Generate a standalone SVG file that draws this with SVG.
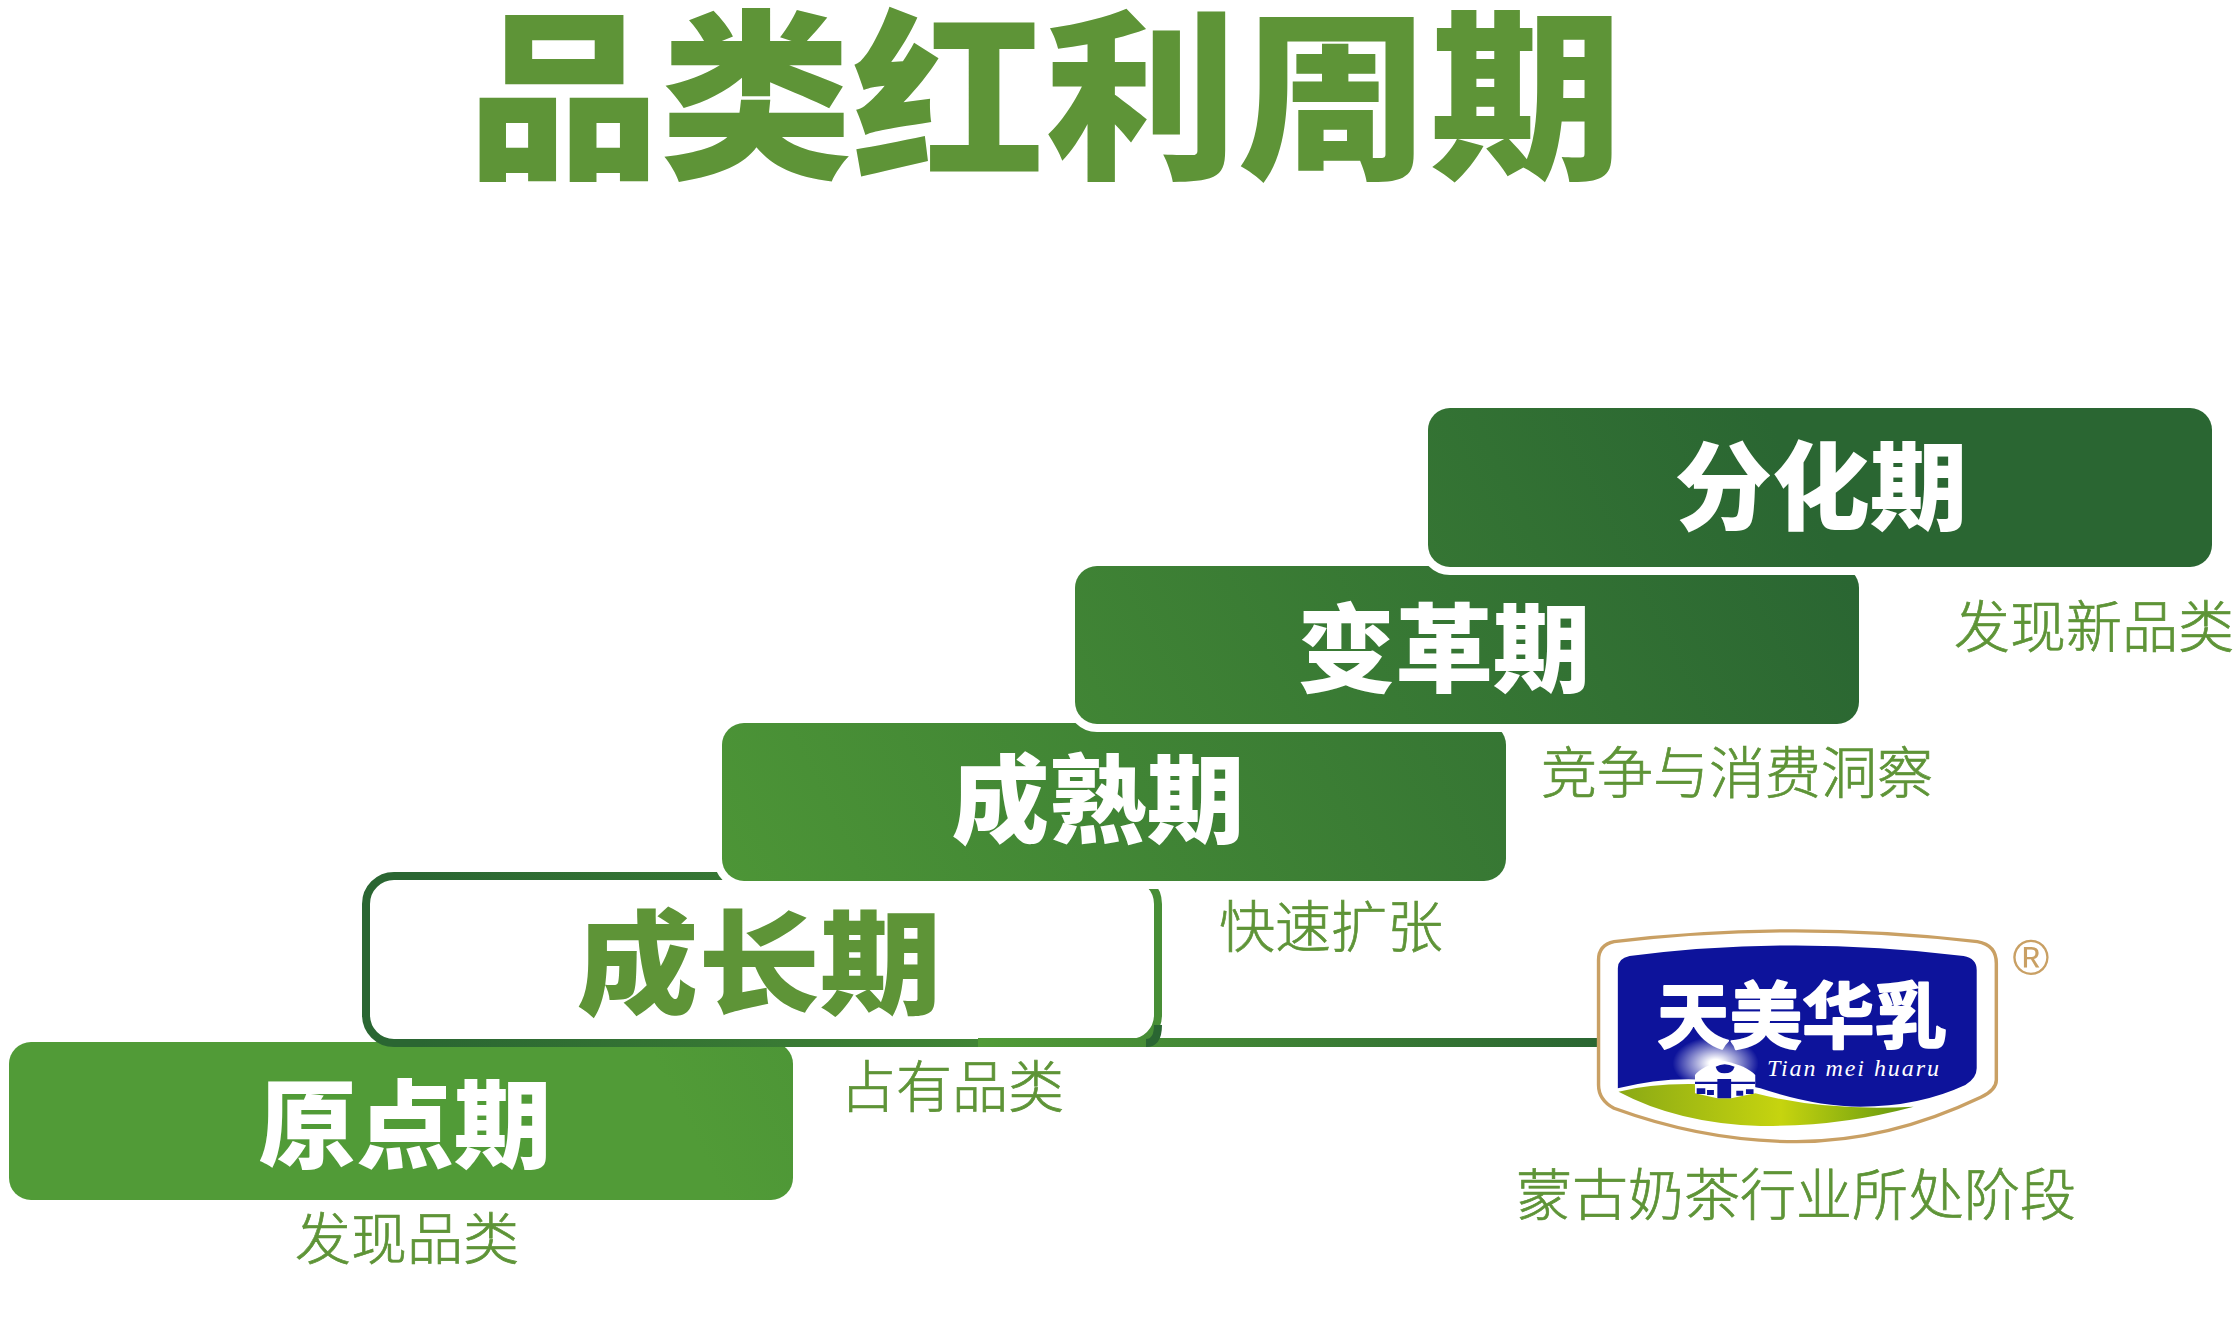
<svg xmlns="http://www.w3.org/2000/svg" width="2233" height="1325" viewBox="0 0 2233 1325">
<style>
text{font-family:"Noto Sans CJK SC","Noto Sans",sans-serif;text-anchor:middle}
.title{font-size:182px;font-weight:900;fill:#5e9437}
.big{font-size:96px;font-weight:900;fill:#fff}
.sub{font-size:56px;font-weight:300;fill:#5e9437;stroke:#5e9437;stroke-width:.7px}
.box{fill:url(#g);stroke:#fff;stroke-width:16px;paint-order:stroke}
</style>
<defs>
<linearGradient id="g" gradientUnits="userSpaceOnUse" x1="700" y1="1150" x2="1850" y2="580"><stop offset="0" stop-color="#519b37"/><stop offset="1" stop-color="#2a6632"/></linearGradient>
<linearGradient id="o" gradientUnits="userSpaceOnUse" x1="420" y1="960" x2="1400" y2="960"><stop offset="0" stop-color="#2a6632"/><stop offset="1" stop-color="#519b37"/></linearGradient>
<linearGradient id="l" gradientUnits="userSpaceOnUse" x1="978" y1="1042" x2="1597" y2="1042"><stop offset="0" stop-color="#519b37"/><stop offset="1" stop-color="#2a6632"/></linearGradient>
<linearGradient id="lime" x1="0" y1="0" x2="1" y2="0"><stop offset="0" stop-color="#8aa915"/><stop offset=".55" stop-color="#c6d40f"/><stop offset="1" stop-color="#5f9510"/></linearGradient>
<radialGradient id="glow"><stop offset=".15" stop-color="#fff"/><stop offset="1" stop-color="#fff" stop-opacity="0"/></radialGradient>
</defs>
<rect width="2233" height="1325" fill="#fff"/>
<g id="title"><text class="title" x="1045" y="164" textLength="1155" lengthAdjust="spacingAndGlyphs">品类红利周期</text></g>
<g id="node-yuandian"><rect class="box" x="9" y="1042" width="784" height="158" rx="22" style="stroke:none"/><text class="big" x="405" y="1160" textLength="293" lengthAdjust="spacingAndGlyphs">原点期</text></g>
<g id="node-chengzhang">
<rect x="366" y="876" width="792" height="167" rx="28" fill="#fff" stroke="url(#o)" stroke-width="8"/>
<text x="759" y="1005" style="font-size:113px;font-weight:900;fill:#5e9437" textLength="365" lengthAdjust="spacingAndGlyphs">成长期</text>
</g>
<g id="connectors"><rect x="978" y="1038" width="619" height="9" fill="url(#l)"/><path d="M1146 1043Q1158 1043 1158 1025" fill="none" stroke="#2a6632" stroke-width="8"/></g>
<g id="node-chengshu"><rect class="box" x="722" y="723" width="784" height="158" rx="22"/><text class="big" x="1098" y="835" textLength="293" lengthAdjust="spacingAndGlyphs">成熟期</text></g>
<g id="node-biange"><rect class="box" x="1075" y="566" width="784" height="158" rx="22"/><text class="big" x="1444" y="684" textLength="293" lengthAdjust="spacingAndGlyphs">变革期</text></g>
<g id="node-fenhua"><rect class="box" x="1428" y="408" width="784" height="159" rx="22"/><text class="big" x="1821" y="522" textLength="293" lengthAdjust="spacingAndGlyphs">分化期</text></g>
<g id="labels">
<text class="sub" x="407" y="1259">发现品类</text>
<text class="sub" x="952" y="1107">占有品类</text>
<text class="sub" x="1331" y="947">快速扩张</text>
<text class="sub" x="1737" y="793">竞争与消费洞察</text>
<text class="sub" x="2094" y="647">发现新品类</text>
<text class="sub" x="1796" y="1215">蒙古奶茶行业所处阶段</text>
</g>
<g id="logo">
<g transform="translate(1540 900) scale(.3444 .3333)">
<path d="M215 125Q740 60 1270 125Q1325 135 1325 190L1325 540Q1325 570 1280 592Q1010 725 745 725Q480 725 215 625Q170 600 170 555L170 180Q170 135 215 125Z" fill="#fff" stroke="#c9a064" stroke-width="10"/>
<path d="M260 168Q740 105 1230 168Q1268 175 1268 210L1268 505Q1268 535 1235 555Q1100 620 930 620Q800 620 640 565Q430 510 226 565L226 205Q226 175 260 168Z" fill="#0d139b"/>
<path d="M228 575Q320 550 450 552L625 580Q830 635 1085 620Q870 680 640 678Q400 670 228 575Z" fill="url(#lime)"/>
<ellipse cx="510" cy="490" rx="125" ry="80" fill="url(#glow)"/>
<path d="M450 525Q470 497 535 483Q600 497 625 525L625 580L555 595L515 595L450 580Z" fill="#fff"/>
<path d="M515 537H555V595H515ZM450 545H515V552H450ZM555 545H625V552H555ZM455 565H480V582H455ZM485 570H505V585H485ZM570 572H590V587H570ZM598 568H620V582H598Z" fill="#0d139b"/>
<path d="M510 500Q535 485 565 500Q560 520 535 520Q515 520 510 500Z" fill="#0d139b"/>
</g>
<text x="1802" y="1042" style="font-size:72px;font-weight:700;fill:#fff;stroke:#fff;stroke-width:2px;stroke-linejoin:round" textLength="290" lengthAdjust="spacingAndGlyphs">天美华乳</text>
<text x="1853" y="1076" style="font-family:'Liberation Serif',serif;font-style:italic;font-size:24px;fill:#fff" textLength="172" lengthAdjust="spacing">Tian mei huaru</text>
<text x="2031" y="975" style="font-family:'Liberation Sans',sans-serif;font-size:50px;fill:#c9a064">®</text>
</g>
</svg>
